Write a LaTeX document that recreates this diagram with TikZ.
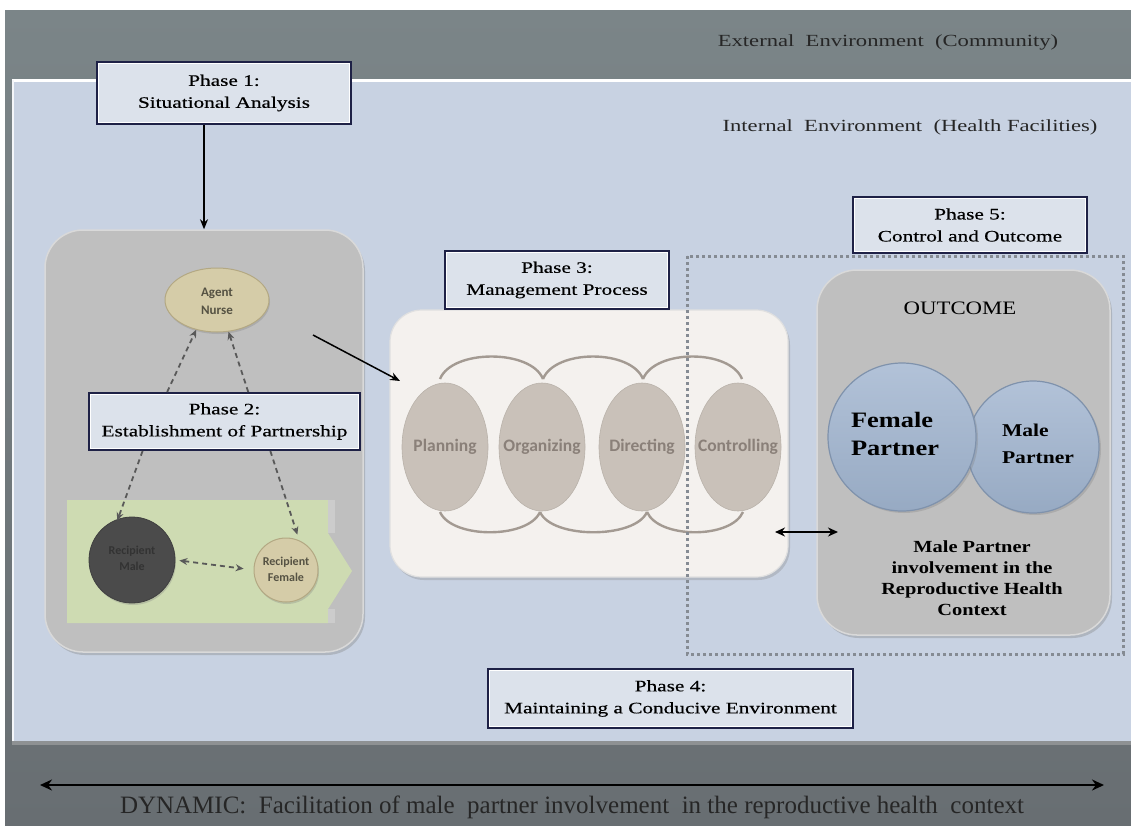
\documentclass[tikz,border=0pt]{standalone}
\usepackage{fontspec}
\setmainfont{Liberation Serif}
\newfontfamily\phasefont[FakeStretch=1.33,FakeBold=0.4]{Liberation Serif}
\newfontfamily\envfont[FakeStretch=1.33]{Liberation Serif}
\newfontfamily\widefont[FakeStretch=1.2]{Liberation Serif}
\newfontfamily\calib{Carlito}
\usetikzlibrary{calc,shadows,arrows.meta,shapes.geometric}
\definecolor{outertop}{HTML}{7B8588}
\definecolor{outerbot}{HTML}{686E72}
\definecolor{panel}{HTML}{C8D2E2}
\definecolor{phasefill}{HTML}{DCE2EB}
\definecolor{navyc}{HTML}{1E2146}
\definecolor{boxgray}{HTML}{BFBFBF}
\definecolor{tanc}{HTML}{D5CCA8}
\definecolor{tanedge}{HTML}{B3A883}
\definecolor{darkc}{HTML}{4B4B4B}
\definecolor{greenc}{HTML}{CEDBB2}
\definecolor{mgmtfill}{HTML}{F4F1EE}
\definecolor{ovalc}{HTML}{C9C1B9}
\definecolor{ovaltext}{HTML}{8A8079}
\definecolor{arcc}{HTML}{A39A92}
\definecolor{bluetop}{HTML}{B2C2D8}
\definecolor{bluebot}{HTML}{97AAC3}
\definecolor{blueedge}{HTML}{7F92AC}
\definecolor{dotc}{HTML}{858B93}
\newcommand\phaseline[1]{\draw[white, line width=0.9pt] ([xshift=2.6pt,yshift=-2.6pt]#1.north west) rectangle ([xshift=-2.6pt,yshift=2.6pt]#1.south east);}
\begin{document}
\begin{tikzpicture}[x=1pt,y=-1pt,
  phase/.style={draw=navyc, line width=2pt, fill=phasefill, inner sep=0pt, align=center, text=black,
    font=\phasefont\fontsize{16}{22}\selectfont},
  envtext/.style={font=\envfont\fontsize{17}{20}\selectfont, text=black!85},
  bigbox/.style={fill=boxgray, draw=white!85!black, line width=1.5pt, rounded corners=38pt,
    drop shadow={opacity=0.35, shadow xshift=2pt, shadow yshift=-3pt}},
  tanball/.style={fill=tanc, draw=tanedge, line width=1pt, inner sep=0pt,
    drop shadow={opacity=0.3, shadow xshift=1pt, shadow yshift=-2pt}},
  smalllab/.style={font=\calib\bfseries\fontsize{12}{16}\selectfont, align=center},
  oval/.style={ellipse, fill=ovalc, draw=ovalc!92!black, line width=0.6pt, minimum width=86pt, minimum height=128pt,
    inner sep=0pt},
  ovallab/.style={font=\calib\bfseries\fontsize{17.5}{20}\selectfont, text=ovaltext, inner sep=0pt},
  arcline/.style={draw=arcc, line width=2.4pt},
  dasharrow/.style={draw=black!65, line width=1.8pt, dash pattern=on 5pt off 4pt,
    -{Stealth[length=8pt,width=7pt]}},
  dashboth/.style={dasharrow, {Stealth[length=8pt,width=7pt]}-{Stealth[length=8pt,width=7pt]}},
  solidarrow/.style={draw=black, line width=1.5pt, -{Stealth[length=10pt,width=8pt]}},
  bothsolid/.style={draw=black, line width=1.5pt, {Stealth[length=10pt,width=9pt]}-{Stealth[length=10pt,width=9pt]}},
  bluecirc/.style={circle, top color=bluetop, bottom color=bluebot, draw=blueedge, line width=1.2pt, inner sep=0pt,
    drop shadow={opacity=0.3, shadow xshift=2pt, shadow yshift=-2pt}}
]
\useasboundingbox (0,0) rectangle (1131,825);
\fill[white] (0,0) rectangle (1131,825);
% outer environment
\shade[top color=outertop, bottom color=outerbot] (5,10) rectangle (1131,825);
% inner environment
\fill[black!30, opacity=0.5] (12,741) rectangle (1131,745);
\fill[panel] (12,79) rectangle (1131,741);
\draw[white, line width=2.5pt] (12,80.5) -- (1131,80.5);
\draw[white!80!panel, line width=1.5pt] (13,80) -- (13,741);

\node[envtext] (ext) at (888,42) {External\ \ Environment\ \ (Community)};
\node[envtext] (int) at (910,127) {Internal\ \ Environment\ \ (Health Facilities)};

% left box
\node[bigbox, minimum width=318pt, minimum height=422pt] (leftbox) at (204,441) {};
\fill[greenc] (67,500) -- (328,500) -- (328,533) -- (352,571) -- (328,609) -- (328,623) -- (67,623) -- cycle;
\fill[boxgray!80!white] (328,500) rectangle (335,533);
\fill[boxgray!80!white] (328,609) rectangle (335,623);

\node[tanball, ellipse, minimum width=104pt, minimum height=64pt] (nurse) at (217,300) {};
\node[smalllab, font=\calib\bfseries\fontsize{13}{18}\selectfont, text=black!60!tanc] (nurselab) at (217,301) {Agent\\Nurse};
\node[circle, fill=darkc, draw=black!75, line width=0.8pt, minimum size=86pt, inner sep=0pt,
  drop shadow={opacity=0.3, shadow xshift=1pt, shadow yshift=-2pt}] (rm) at (132,560) {};
\node[smalllab, text=black!80] (rmlab) at (132,558) {Recipient\\Male};
\node[tanball, circle, minimum size=64pt] (rf) at (286,570) {};
\node[smalllab, text=black!60!tanc] (rflab) at (286,569) {Recipient\\Female};

% phase 1 and 2
\node[phase, minimum width=254pt, minimum height=62pt] (p1) at (224,93) {Phase 1:\\Situational Analysis};
\phaseline{p1}
\draw[solidarrow] (p1.south -| leftbox.north) -- (leftbox.north);

\node[phase, minimum width=271pt, minimum height=57pt] (p2) at (224.5,421.5) {Phase 2:\\Establishment of Partnership};
\phaseline{p2}

\draw[dasharrow] ($(p2.north west)!0.29!(p2.north east)$) -- (nurse.235);
\draw[dasharrow] ($(p2.north west)!0.587!(p2.north east)$) -- (nurse.290);
\draw[dasharrow] ($(p2.south west)!0.2!(p2.south east)$) -- ([shift={(-2,2)}]rm.107);
\draw[dasharrow, shorten >=6pt] ($(p2.south west)!0.668!(p2.south east)$) -- (rf.66);
\draw[dashboth, shorten <=4pt, shorten >=10pt] (rm.east) -- (rf.west);

% management process
\node[fill=mgmtfill, draw=black!12, line width=1.2pt, rounded corners=32pt, minimum width=398pt, minimum height=267pt,
  drop shadow={opacity=0.3, shadow xshift=2pt, shadow yshift=-3pt}] (mgmt) at (589,443.5) {};
\coordinate (arrS) at (313,335);
\coordinate (arrE) at (400,381);
\draw[solidarrow] (arrS) -- (arrE);

\draw[arcline] (440,379) .. controls (452,349) and (531,349) .. (543,379);
\draw[arcline] (543,379) .. controls (555,349) and (631,349) .. (643,379);
\draw[arcline] (643,379) .. controls (655,349) and (730,349) .. (742,379);
\draw[arcline] (440,512) .. controls (452,539) and (528,539) .. (540,512);
\draw[arcline] (540,512) .. controls (552,539) and (635,539) .. (647,512);
\draw[arcline] (647,512) .. controls (659,539) and (731,539) .. (743,512);

\node[oval] (plan) at (445,447) {};
\node[oval] (org) at (542,447) {};
\node[oval] (dir) at (642,447) {};
\node[oval] (ctrl) at (738,447) {};
\node[ovallab] (planlab) at (plan) {Planning};
\node[ovallab] (orglab) at (org) {Organizing};
\node[ovallab] (dirlab) at (dir) {Directing};
\node[ovallab] (ctrllab) at (ctrl) {Controlling};

\node[phase, minimum width=224pt, minimum height=58pt] (p3) at (557,280) {Phase 3:\\Management Process};
\phaseline{p3}

% outcome
\node[bigbox, rounded corners=40pt, minimum width=293pt, minimum height=365pt] (outc) at (963.5,452.5) {};
\node[font=\widefont\fontsize{19}{22}\selectfont] (outlab) at (960,308) {OUTCOME};
\node[bluecirc, minimum size=132pt] (malep) at (1033,447) {};
\node[bluecirc, minimum size=148pt] (femp) at (902,437) {};
\node[font=\widefont\bfseries\fontsize{22}{28}\selectfont, align=left] (femlab) at (895,434) {Female\\Partner};
\node[font=\widefont\bfseries\fontsize{18}{27}\selectfont, align=left] (malelab) at (1038,443.5) {Male\\Partner};
\node[font=\widefont\bfseries\fontsize{17}{21}\selectfont, align=center] (invlab) at (972,578)
  {Male Partner\\involvement in the\\Reproductive Health\\Context};

% dotted control region
\draw[dotc, line width=3pt, dash pattern=on 3pt off 3pt] (687,256) rectangle (1123,654);
\coordinate (dA) at (775,532);
\coordinate (dB) at (838,532);
\draw[bothsolid] (dA) -- (dB);

\node[phase, minimum width=234pt, minimum height=56pt] (p5) at (970,225) {Phase 5:\\Control and Outcome};
\phaseline{p5}

\node[phase, minimum width=365pt, minimum height=59pt] (p4) at (670.5,698.5) {Phase 4:\\Maintaining a Conducive Environment};
\phaseline{p4}

% dynamic
\coordinate (dynL) at (40,785);
\coordinate (dynR) at (1104,785);
\draw[draw=black, line width=2pt, {Stealth[length=12pt,width=11pt]}-{Stealth[length=12pt,width=11pt]}] (dynL) -- (dynR);
\node[font=\fontsize{25}{28}\selectfont, text=black!85] (dyn) at (572,807)
  {DYNAMIC:\ \ Facilitation of male\ \ partner involvement\ \ in the reproductive health\ \ context};
\end{tikzpicture}
\end{document}
